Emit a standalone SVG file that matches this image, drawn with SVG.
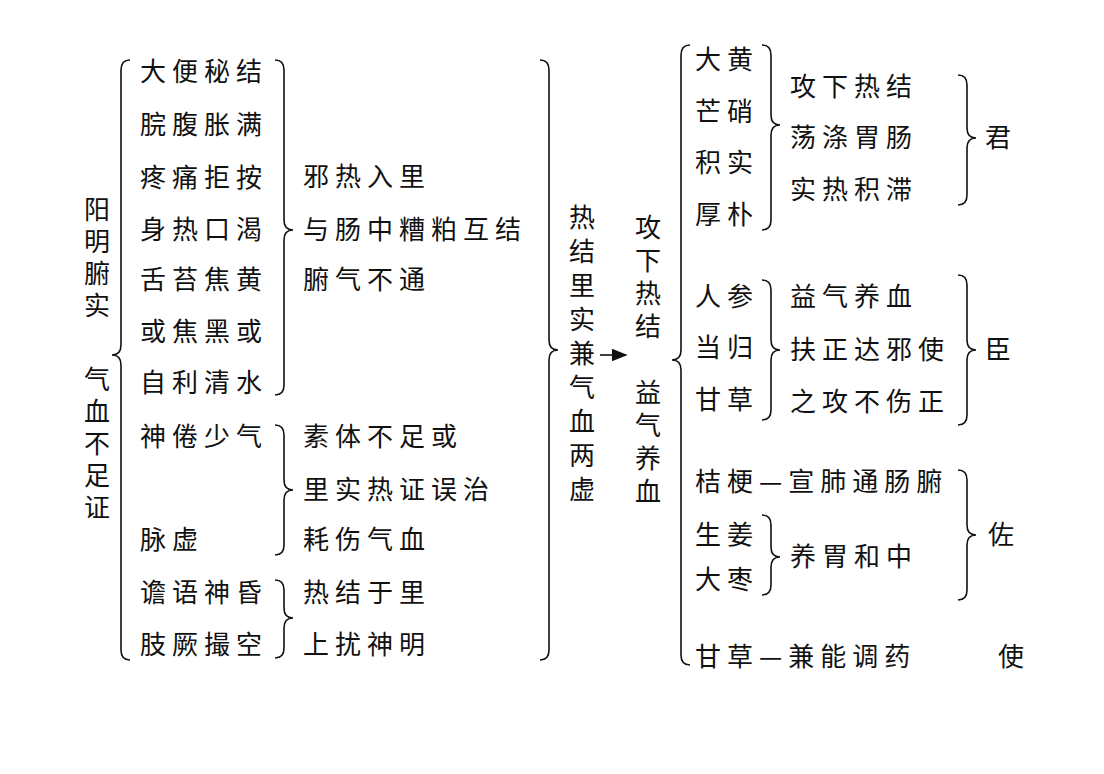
<svg xmlns="http://www.w3.org/2000/svg" width="1104" height="774" viewBox="0 0 1104 774">
<style>
text{font-family:"Noto Sans CJK SC","Noto Serif CJK SC",sans-serif;font-size:26px;fill:#111;letter-spacing:6px}
.v{letter-spacing:0}
.b{fill:none;stroke:#111;stroke-width:1.6}
</style>
<defs><marker id="ar" markerWidth="10" markerHeight="8" refX="9" refY="4" orient="auto"><path d="M0,0 L10,4 L0,8 Z" fill="#111"/></marker></defs>
<rect width="1104" height="774" fill="#fff"/>
<g id="left-title" class="v">
<text x="84" y="219">阳</text><text x="84" y="251">明</text><text x="84" y="283">腑</text><text x="84" y="315">实</text>
<text x="84" y="389">气</text><text x="84" y="421">血</text><text x="84" y="453">不</text><text x="84" y="485">足</text><text x="84" y="517">证</text>
</g>
<g id="col1">
<text x="140" y="81">大便秘结</text><text x="140" y="134">脘腹胀满</text><text x="140" y="187">疼痛拒按</text><text x="140" y="239">身热口渴</text><text x="140" y="289">舌苔焦黄</text><text x="140" y="341">或焦黑或</text><text x="140" y="392">自利清水</text>
<text x="140" y="446">神倦少气</text><text x="140" y="549">脉虚</text><text x="140" y="602">谵语神昏</text><text x="140" y="654">肢厥撮空</text>
</g>
<g id="col2">
<text x="303" y="186">邪热入里</text><text x="303" y="239">与肠中糟粕互结</text><text x="303" y="289">腑气不通</text>
<text x="303" y="446">素体不足或</text><text x="303" y="499">里实热证误治</text><text x="303" y="549">耗伤气血</text>
<text x="303" y="602">热结于里</text><text x="303" y="654">上扰神明</text>
</g>
<g id="mid">
<text x="569" y="227">热</text><text x="569" y="261">结</text><text x="569" y="295">里</text><text x="569" y="329">实</text><text x="569" y="363">兼</text><text x="569" y="397">气</text><text x="569" y="431">血</text><text x="569" y="465">两</text><text x="569" y="499">虚</text>
<text x="635" y="237">攻</text><text x="635" y="270">下</text><text x="635" y="303">热</text><text x="635" y="336">结</text>
<text x="635" y="402">益</text><text x="635" y="435">气</text><text x="635" y="468">养</text><text x="635" y="501">血</text>
</g>
<g id="herbs">
<text x="695" y="69">大黄</text><text x="695" y="121">芒硝</text><text x="695" y="172">积实</text><text x="695" y="224">厚朴</text>
<text x="790" y="96">攻下热结</text><text x="790" y="147">荡涤胃肠</text><text x="790" y="199">实热积滞</text><text x="985" y="147">君</text>
<text x="695" y="306">人参</text><text x="695" y="357">当归</text><text x="695" y="409">甘草</text>
<text x="790" y="306">益气养血</text><text x="790" y="359">扶正达邪使</text><text x="790" y="411">之攻不伤正</text><text x="985" y="359">臣</text>
<text x="695" y="491">桔梗—宣肺通肠腑</text>
<text x="695" y="544">生姜</text><text x="695" y="589">大枣</text><text x="790" y="566">养胃和中</text><text x="988" y="544">佐</text>
<text x="695" y="666">甘草—兼能调药</text><text x="998" y="666">使</text>
</g>
<g id="connectors">
<path class="b" d="M130,60 Q121,60 121,70 L121,345 Q121,355 112,355 Q121,355 121,365 L121,650 Q121,660 130,660"/>
<path class="b" d="M275,60 Q284,60 284,70 L284,220 Q284,230 293,230 Q284,230 284,240 L284,385 Q284,395 275,395"/>
<path class="b" d="M275,425 Q284,425 284,435 L284,480 Q284,490 293,490 Q284,490 284,500 L284,545 Q284,555 275,555"/>
<path class="b" d="M275,580 Q284,580 284,590 L284,608 Q284,618 293,618 Q284,618 284,628 L284,648 Q284,658 275,658"/>
<path class="b" d="M540,60 Q549,60 549,70 L549,340 Q549,350 558,350 Q549,350 549,360 L549,650 Q549,660 540,660"/>
<path class="b" d="M690,45 Q681,45 681,55 L681,350 Q681,360 672,360 Q681,360 681,370 L681,655 Q681,665 690,665"/>
<path class="b" d="M762,45 Q771,45 771,55 L771,115 Q771,125 780,125 Q771,125 771,135 L771,220 Q771,230 762,230"/>
<path class="b" d="M958,75 Q967,75 967,85 L967,128 Q967,138 976,138 Q967,138 967,148 L967,195 Q967,205 958,205"/>
<path class="b" d="M762,280 Q771,280 771,290 L771,340 Q771,350 780,350 Q771,350 771,360 L771,410 Q771,420 762,420"/>
<path class="b" d="M958,275 Q967,275 967,285 L967,340 Q967,350 976,350 Q967,350 967,360 L967,415 Q967,425 958,425"/>
<path class="b" d="M762,515 Q771,515 771,525 L771,547 Q771,557 780,557 Q771,557 771,567 L771,585 Q771,595 762,595"/>
<path class="b" d="M958,470 Q967,470 967,480 L967,525 Q967,535 976,535 Q967,535 967,545 L967,590 Q967,600 958,600"/>
<line class="b" x1="600" y1="355" x2="626" y2="355" marker-end="url(#ar)"/>
</g>
</svg>
